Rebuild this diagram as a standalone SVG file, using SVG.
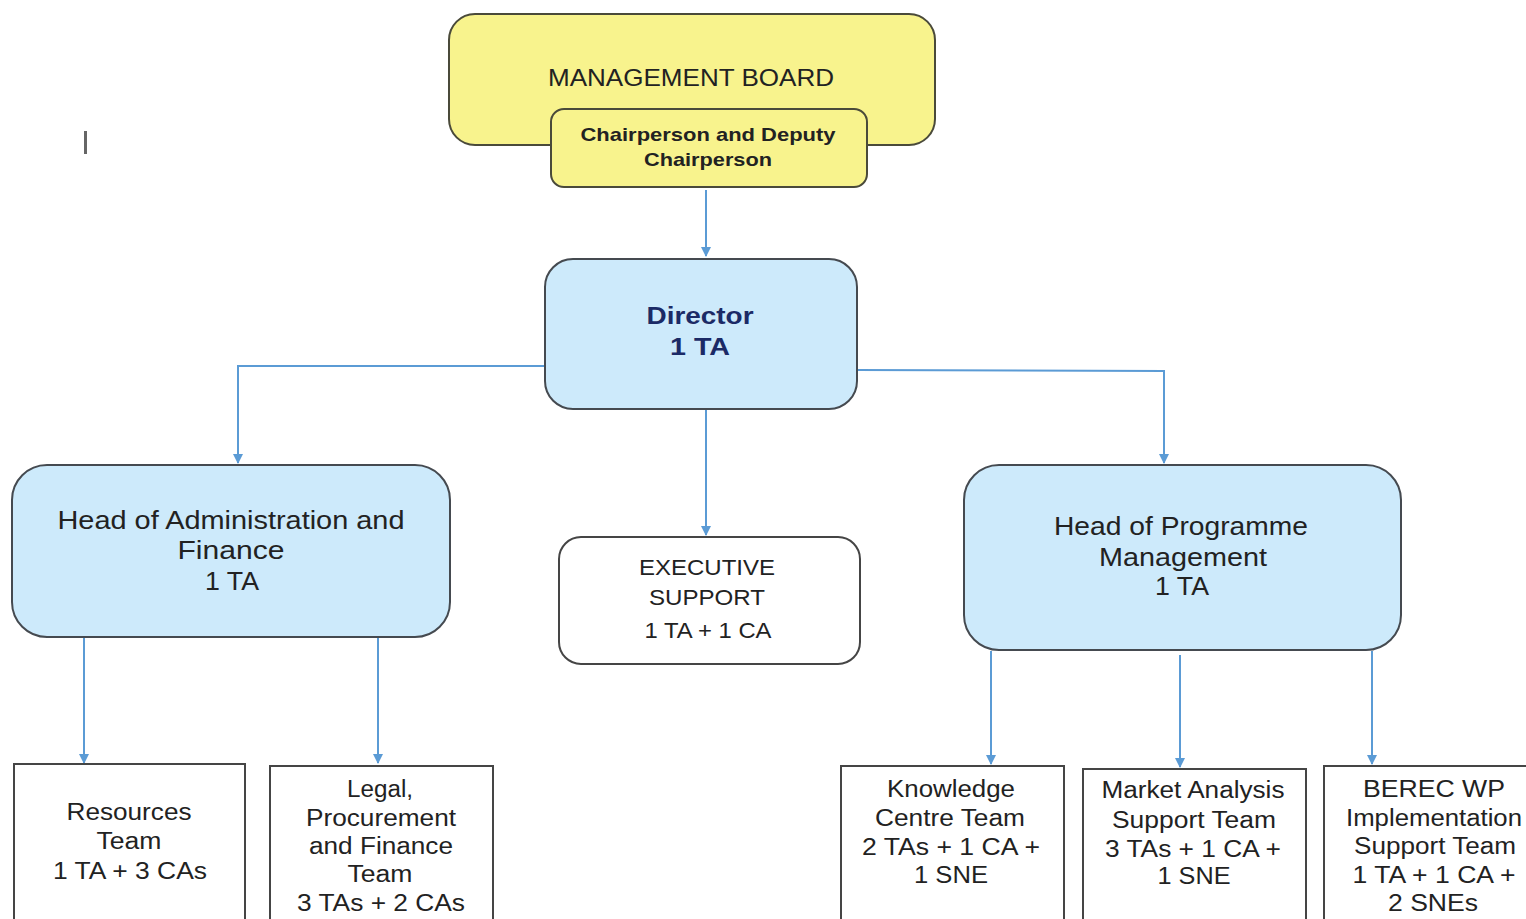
<svg xmlns="http://www.w3.org/2000/svg" width="1526" height="919" viewBox="0 0 1526 919">
<defs>
<marker id="ah" viewBox="0 0 10 10" refX="9" refY="5" markerWidth="5" markerHeight="5" orient="auto" markerUnits="strokeWidth">
<path d="M0,0 L10,5 L0,10 z" fill="#5B9BD5"/>
</marker>
</defs>
<style>
.yel{fill:#F8F38D;stroke:#4a4a3a;stroke-width:2}
.blue{fill:#CDEAFB;stroke:#454a50;stroke-width:2}
.wht{fill:#ffffff;stroke:#454545;stroke-width:2}
.t{font-family:"Liberation Sans",Arial,sans-serif;fill:#222;text-anchor:middle}
.b{font-weight:bold}
.con{fill:none;stroke:#5B9BD5;stroke-width:2;marker-end:url(#ah)}
</style>
<rect width="1526" height="919" fill="#ffffff"/>
<rect x="84" y="131" width="3" height="23" fill="#666"/>

<g id="connectors">
<path class="con" d="M706,190 L706,256"/>
<path class="con" d="M545,366 L238,366 L238,463"/>
<path class="con" d="M857,370 L1164,371 L1164,463"/>
<path class="con" d="M706,410 L706,535"/>
<path class="con" d="M84,638 L84,763"/>
<path class="con" d="M378,638 L378,763"/>
<path class="con" d="M991,651 L991,764"/>
<path class="con" d="M1180,655 L1180,767"/>
<path class="con" d="M1372,651 L1372,764"/>
</g>

<g id="management-board">
<rect class="yel" x="449" y="14" width="486" height="131" rx="26"/>
<text class="t" x="691" y="86" font-size="24" textLength="286" lengthAdjust="spacingAndGlyphs">MANAGEMENT BOARD</text>
</g>
<g id="chairperson">
<rect class="yel" x="551" y="109" width="316" height="78" rx="13"/>
<text class="t b" x="708" y="141" font-size="19" textLength="255" lengthAdjust="spacingAndGlyphs">Chairperson and Deputy</text>
<text class="t b" x="708" y="166" font-size="19" textLength="128" lengthAdjust="spacingAndGlyphs">Chairperson</text>
</g>
<g id="director">
<rect class="blue" x="545" y="259" width="312" height="150" rx="28"/>
<text class="t b" x="700" y="324" font-size="24" fill="#1b2a66" style="fill:#1b2a66" textLength="107" lengthAdjust="spacingAndGlyphs">Director</text>
<text class="t b" x="700" y="355" font-size="24" style="fill:#1b2a66" textLength="60" lengthAdjust="spacingAndGlyphs">1 TA</text>
</g>
<g id="head-admin">
<rect class="blue" x="12" y="465" width="438" height="172" rx="35"/>
<text class="t" x="231" y="529" font-size="25" textLength="347" lengthAdjust="spacingAndGlyphs">Head of Administration and</text>
<text class="t" x="231" y="559" font-size="25" textLength="107" lengthAdjust="spacingAndGlyphs">Finance</text>
<text class="t" x="232" y="590" font-size="25" textLength="54" lengthAdjust="spacingAndGlyphs">1 TA</text>
</g>
<g id="executive-support">
<rect class="wht" x="559" y="537" width="301" height="127" rx="22"/>
<text class="t" x="707" y="575" font-size="22" textLength="136" lengthAdjust="spacingAndGlyphs">EXECUTIVE</text>
<text class="t" x="707" y="605" font-size="22" textLength="116" lengthAdjust="spacingAndGlyphs">SUPPORT</text>
<text class="t" x="708" y="638" font-size="22" textLength="127" lengthAdjust="spacingAndGlyphs">1 TA + 1 CA</text>
</g>
<g id="head-programme">
<rect class="blue" x="964" y="465" width="437" height="185" rx="35"/>
<text class="t" x="1181" y="535" font-size="25" textLength="254" lengthAdjust="spacingAndGlyphs">Head of Programme</text>
<text class="t" x="1183" y="566" font-size="25" textLength="168" lengthAdjust="spacingAndGlyphs">Management</text>
<text class="t" x="1182" y="595" font-size="25" textLength="54" lengthAdjust="spacingAndGlyphs">1 TA</text>
</g>
<g id="resources-team">
<rect class="wht" x="14" y="764" width="231" height="170"/>
<text class="t" x="129" y="820" font-size="23" textLength="125" lengthAdjust="spacingAndGlyphs">Resources</text>
<text class="t" x="129" y="849" font-size="23" textLength="65" lengthAdjust="spacingAndGlyphs">Team</text>
<text class="t" x="130" y="879" font-size="23" textLength="154" lengthAdjust="spacingAndGlyphs">1 TA + 3 CAs</text>
</g>
<g id="legal-team">
<rect class="wht" x="270" y="766" width="223" height="170"/>
<text class="t" x="380" y="797" font-size="23" textLength="66" lengthAdjust="spacingAndGlyphs">Legal,</text>
<text class="t" x="381" y="826" font-size="23" textLength="150" lengthAdjust="spacingAndGlyphs">Procurement</text>
<text class="t" x="381" y="854" font-size="23" textLength="144" lengthAdjust="spacingAndGlyphs">and Finance</text>
<text class="t" x="380" y="882" font-size="23" textLength="65" lengthAdjust="spacingAndGlyphs">Team</text>
<text class="t" x="381" y="911" font-size="23" textLength="168" lengthAdjust="spacingAndGlyphs">3 TAs + 2 CAs</text>
</g>
<g id="knowledge-team">
<rect class="wht" x="841" y="766" width="223" height="170"/>
<text class="t" x="951" y="797" font-size="23" textLength="128" lengthAdjust="spacingAndGlyphs">Knowledge</text>
<text class="t" x="950" y="826" font-size="23" textLength="150" lengthAdjust="spacingAndGlyphs">Centre Team</text>
<text class="t" x="951" y="855" font-size="23" textLength="178" lengthAdjust="spacingAndGlyphs">2 TAs + 1 CA +</text>
<text class="t" x="951" y="883" font-size="23" textLength="74" lengthAdjust="spacingAndGlyphs">1 SNE</text>
</g>
<g id="market-team">
<rect class="wht" x="1083" y="769" width="223" height="170"/>
<text class="t" x="1193" y="798" font-size="23" textLength="183" lengthAdjust="spacingAndGlyphs">Market Analysis</text>
<text class="t" x="1194" y="828" font-size="23" textLength="164" lengthAdjust="spacingAndGlyphs">Support Team</text>
<text class="t" x="1193" y="857" font-size="23" textLength="176" lengthAdjust="spacingAndGlyphs">3 TAs + 1 CA +</text>
<text class="t" x="1194" y="884" font-size="23" textLength="73" lengthAdjust="spacingAndGlyphs">1 SNE</text>
</g>
<g id="berec-team">
<rect class="wht" x="1324" y="766" width="220" height="170"/>
<text class="t" x="1434" y="797" font-size="23" textLength="142" lengthAdjust="spacingAndGlyphs">BEREC WP</text>
<text class="t" x="1434" y="826" font-size="23" textLength="176" lengthAdjust="spacingAndGlyphs">Implementation</text>
<text class="t" x="1435" y="854" font-size="23" textLength="162" lengthAdjust="spacingAndGlyphs">Support Team</text>
<text class="t" x="1434" y="883" font-size="23" textLength="163" lengthAdjust="spacingAndGlyphs">1 TA + 1 CA +</text>
<text class="t" x="1433" y="911" font-size="23" textLength="90" lengthAdjust="spacingAndGlyphs">2 SNEs</text>
</g>
</svg>
